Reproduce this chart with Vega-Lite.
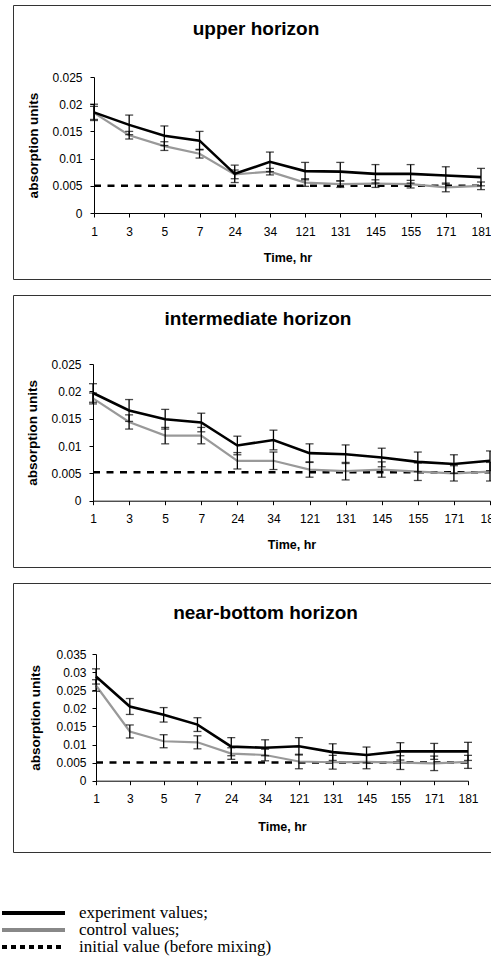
{
  "$schema": "https://vega.github.io/schema/vega-lite/v6.json",
  "padding": {"left": 0, "top": 4, "right": 0, "bottom": 0},
  "background": "white",
  "config": {
    "font": "Liberation Sans",
    "view": {"stroke": "#333", "strokeWidth": 1},
    "axis": {"labelFont": "Liberation Sans", "labelFontSize": 12, "labelColor": "#000", "titleFont": "Liberation Sans", "titleFontSize": 12.5, "titleFontWeight": "bold", "titleColor": "#000", "domainColor": "#000", "tickColor": "#000", "tickSize": 4, "grid": false, "domainWidth": 1, "tickWidth": 1, "labelOverlap": false},
    "title": {"font": "Liberation Sans", "fontSize": 19, "fontWeight": "bold", "color": "#000", "frame": "group", "anchor": "middle"}
  },
  "datasets": {
    "obs": [
      {"panel": "upper", "series": "initial", "time": 1, "value": 0.005, "err": 0},
      {"panel": "upper", "series": "initial", "time": 181, "value": 0.005, "err": 0},
      {"panel": "upper", "series": "experiment", "time": 1, "value": 0.0185, "err": 0.0015},
      {"panel": "upper", "series": "experiment", "time": 3, "value": 0.0162, "err": 0.0018},
      {"panel": "upper", "series": "experiment", "time": 5, "value": 0.0142, "err": 0.0018},
      {"panel": "upper", "series": "experiment", "time": 7, "value": 0.0133, "err": 0.0017},
      {"panel": "upper", "series": "experiment", "time": 24, "value": 0.0072, "err": 0.0016},
      {"panel": "upper", "series": "experiment", "time": 34, "value": 0.0094, "err": 0.0018},
      {"panel": "upper", "series": "experiment", "time": 121, "value": 0.0077, "err": 0.0016},
      {"panel": "upper", "series": "experiment", "time": 131, "value": 0.0076, "err": 0.0017},
      {"panel": "upper", "series": "experiment", "time": 145, "value": 0.0072, "err": 0.0017},
      {"panel": "upper", "series": "experiment", "time": 155, "value": 0.0072, "err": 0.0017},
      {"panel": "upper", "series": "experiment", "time": 171, "value": 0.0069, "err": 0.0016},
      {"panel": "upper", "series": "experiment", "time": 181, "value": 0.0066, "err": 0.0016},
      {"panel": "upper", "series": "control", "time": 1, "value": 0.0184, "err": 0.0012},
      {"panel": "upper", "series": "control", "time": 3, "value": 0.0143, "err": 0.0007},
      {"panel": "upper", "series": "control", "time": 5, "value": 0.0123, "err": 0.0008},
      {"panel": "upper", "series": "control", "time": 7, "value": 0.0109, "err": 0.0008},
      {"panel": "upper", "series": "control", "time": 24, "value": 0.0071, "err": 0.0008},
      {"panel": "upper", "series": "control", "time": 34, "value": 0.0076, "err": 0.0006},
      {"panel": "upper", "series": "control", "time": 121, "value": 0.0056, "err": 0.0007},
      {"panel": "upper", "series": "control", "time": 131, "value": 0.0053, "err": 0.0006},
      {"panel": "upper", "series": "control", "time": 145, "value": 0.0054, "err": 0.0007},
      {"panel": "upper", "series": "control", "time": 155, "value": 0.0053, "err": 0.0007},
      {"panel": "upper", "series": "control", "time": 171, "value": 0.0047, "err": 0.0008},
      {"panel": "upper", "series": "control", "time": 181, "value": 0.005, "err": 0.0007},

      {"panel": "intermediate", "series": "initial", "time": 1, "value": 0.0052, "err": 0},
      {"panel": "intermediate", "series": "initial", "time": 181, "value": 0.0052, "err": 0},
      {"panel": "intermediate", "series": "experiment", "time": 1, "value": 0.0197, "err": 0.0017},
      {"panel": "intermediate", "series": "experiment", "time": 3, "value": 0.0165, "err": 0.002},
      {"panel": "intermediate", "series": "experiment", "time": 5, "value": 0.0149, "err": 0.0018},
      {"panel": "intermediate", "series": "experiment", "time": 7, "value": 0.0143, "err": 0.0017},
      {"panel": "intermediate", "series": "experiment", "time": 24, "value": 0.0101, "err": 0.0017},
      {"panel": "intermediate", "series": "experiment", "time": 34, "value": 0.0111, "err": 0.0018},
      {"panel": "intermediate", "series": "experiment", "time": 121, "value": 0.0087, "err": 0.0017},
      {"panel": "intermediate", "series": "experiment", "time": 131, "value": 0.0085, "err": 0.0017},
      {"panel": "intermediate", "series": "experiment", "time": 145, "value": 0.0079, "err": 0.0017},
      {"panel": "intermediate", "series": "experiment", "time": 155, "value": 0.0071, "err": 0.0018},
      {"panel": "intermediate", "series": "experiment", "time": 171, "value": 0.0067, "err": 0.0017},
      {"panel": "intermediate", "series": "experiment", "time": 181, "value": 0.0073, "err": 0.0018},
      {"panel": "intermediate", "series": "control", "time": 1, "value": 0.0187, "err": 0.001},
      {"panel": "intermediate", "series": "control", "time": 3, "value": 0.0144, "err": 0.0013},
      {"panel": "intermediate", "series": "control", "time": 5, "value": 0.0119, "err": 0.0015},
      {"panel": "intermediate", "series": "control", "time": 7, "value": 0.0119, "err": 0.0015},
      {"panel": "intermediate", "series": "control", "time": 24, "value": 0.0073, "err": 0.0015},
      {"panel": "intermediate", "series": "control", "time": 34, "value": 0.0073, "err": 0.0016},
      {"panel": "intermediate", "series": "control", "time": 121, "value": 0.0057, "err": 0.0014},
      {"panel": "intermediate", "series": "control", "time": 131, "value": 0.0054, "err": 0.0016},
      {"panel": "intermediate", "series": "control", "time": 145, "value": 0.0057, "err": 0.0014},
      {"panel": "intermediate", "series": "control", "time": 155, "value": 0.0053, "err": 0.0016},
      {"panel": "intermediate", "series": "control", "time": 171, "value": 0.005, "err": 0.0014},
      {"panel": "intermediate", "series": "control", "time": 181, "value": 0.0053, "err": 0.0017},

      {"panel": "near-bottom", "series": "initial", "time": 1, "value": 0.005, "err": 0},
      {"panel": "near-bottom", "series": "initial", "time": 181, "value": 0.005, "err": 0},
      {"panel": "near-bottom", "series": "experiment", "time": 1, "value": 0.0288, "err": 0.0021},
      {"panel": "near-bottom", "series": "experiment", "time": 3, "value": 0.0205, "err": 0.0022},
      {"panel": "near-bottom", "series": "experiment", "time": 5, "value": 0.0182, "err": 0.002},
      {"panel": "near-bottom", "series": "experiment", "time": 7, "value": 0.0155, "err": 0.0019},
      {"panel": "near-bottom", "series": "experiment", "time": 24, "value": 0.0094, "err": 0.0025},
      {"panel": "near-bottom", "series": "experiment", "time": 34, "value": 0.0091, "err": 0.0022},
      {"panel": "near-bottom", "series": "experiment", "time": 121, "value": 0.0095, "err": 0.0024},
      {"panel": "near-bottom", "series": "experiment", "time": 131, "value": 0.0079, "err": 0.0023},
      {"panel": "near-bottom", "series": "experiment", "time": 145, "value": 0.0071, "err": 0.0022},
      {"panel": "near-bottom", "series": "experiment", "time": 155, "value": 0.0081, "err": 0.0024},
      {"panel": "near-bottom", "series": "experiment", "time": 171, "value": 0.0081, "err": 0.0022},
      {"panel": "near-bottom", "series": "experiment", "time": 181, "value": 0.0081, "err": 0.0025},
      {"panel": "near-bottom", "series": "control", "time": 1, "value": 0.0263, "err": 0.0016},
      {"panel": "near-bottom", "series": "control", "time": 3, "value": 0.0136, "err": 0.0018},
      {"panel": "near-bottom", "series": "control", "time": 5, "value": 0.0109, "err": 0.0018},
      {"panel": "near-bottom", "series": "control", "time": 7, "value": 0.0106, "err": 0.0018},
      {"panel": "near-bottom", "series": "control", "time": 24, "value": 0.0075, "err": 0.0016},
      {"panel": "near-bottom", "series": "control", "time": 34, "value": 0.0071, "err": 0.0016},
      {"panel": "near-bottom", "series": "control", "time": 121, "value": 0.0053, "err": 0.002},
      {"panel": "near-bottom", "series": "control", "time": 131, "value": 0.0051, "err": 0.0019},
      {"panel": "near-bottom", "series": "control", "time": 145, "value": 0.0052, "err": 0.0019},
      {"panel": "near-bottom", "series": "control", "time": 155, "value": 0.005, "err": 0.0019},
      {"panel": "near-bottom", "series": "control", "time": 171, "value": 0.0048, "err": 0.002},
      {"panel": "near-bottom", "series": "control", "time": 181, "value": 0.0052, "err": 0.0018}
    ],
    "legendRows": [
      {"label": "experiment values;", "series": "experiment"},
      {"label": "control values;", "series": "control"},
      {"label": "initial value (before mixing)", "series": "initial"}
    ]
  },
  "spacing": 23,
  "vconcat": [
    {
      "spacing": 14,
      "resolve": {"scale": {"x": "independent", "y": "independent"}, "axis": {"x": "independent", "y": "independent"}},
      "data": {"name": "obs"},
      "vconcat": [
        {
          "width": 479, "height": 274,
          "title": {"text": "upper horizon", "offset": -34, "dx": 3.5},
          "transform": [{"filter": "datum.panel === 'upper'"}],
          "encoding": {
            "x": {"field": "time", "type": "ordinal", "title": "Time, hr", "scale": {"type": "point", "domain": [1, 3, 5, 7, 24, 34, 121, 131, 145, 155, 171, 181], "range": [81, 468], "padding": 0}, "axis": {"title": "Time, hr", "offset": -66, "labelAngle": 0, "labelPadding": 9, "titlePadding": 14}},
            "y": {"field": "value", "type": "quantitative", "title": "absorption units", "scale": {"domain": [0, 0.025], "range": [208, 72], "nice": false, "zero": false}, "axis": {"title": "absorption units", "titleFontSize": 13.5, "offset": -81, "values": [0, 0.005, 0.01, 0.015, 0.02, 0.025], "format": "~g", "labelPadding": 8, "titlePadding": 11}}
          },
          "layer": [
            {"transform": [{"filter": "datum.series === 'initial'"}], "mark": {"type": "line", "color": "#000", "strokeWidth": 2.5, "strokeDash": [7, 6.5]}},
            {"transform": [{"filter": "datum.series === 'control'"}], "mark": {"type": "line", "color": "#999", "strokeWidth": 2.2}},
            {"transform": [{"filter": "datum.series === 'experiment'"}], "mark": {"type": "line", "color": "#000", "strokeWidth": 2.6}},
            {"transform": [{"filter": "datum.series !== 'initial'"}], "mark": {"type": "errorbar", "ticks": {"size": 8}, "color": "#000", "thickness": 1.3}, "encoding": {"yError": {"field": "err"}}}
          ]
        },
        {
          "width": 490, "height": 272,
          "title": {"text": "intermediate horizon", "offset": -33.5},
          "transform": [{"filter": "datum.panel === 'intermediate'"}],
          "encoding": {
            "x": {"field": "time", "type": "ordinal", "title": "Time, hr", "scale": {"type": "point", "domain": [1, 3, 5, 7, 24, 34, 121, 131, 145, 155, 171, 181], "range": [80, 477], "padding": 0}, "axis": {"title": "Time, hr", "offset": -66.3, "labelAngle": 0, "labelPadding": 9, "titlePadding": 13.5}},
            "y": {"field": "value", "type": "quantitative", "title": "absorption units", "scale": {"domain": [0, 0.025], "range": [205.7, 69], "nice": false, "zero": false}, "axis": {"title": "absorption units", "titleFontSize": 13.5, "offset": -80, "values": [0, 0.005, 0.01, 0.015, 0.02, 0.025], "format": "~g", "labelPadding": 8, "titlePadding": 11}}
          },
          "layer": [
            {"transform": [{"filter": "datum.series === 'initial'"}], "mark": {"type": "line", "color": "#000", "strokeWidth": 2.5, "strokeDash": [7, 6.5]}},
            {"transform": [{"filter": "datum.series === 'control'"}], "mark": {"type": "line", "color": "#999", "strokeWidth": 2.2}},
            {"transform": [{"filter": "datum.series === 'experiment'"}], "mark": {"type": "line", "color": "#000", "strokeWidth": 2.6}},
            {"transform": [{"filter": "datum.series !== 'initial'"}], "mark": {"type": "errorbar", "ticks": {"size": 8}, "color": "#000", "thickness": 1.3}, "encoding": {"yError": {"field": "err"}}}
          ]
        },
        {
          "width": 505, "height": 269,
          "title": {"text": "near-bottom horizon", "offset": -40},
          "transform": [{"filter": "datum.panel === 'near-bottom'"}],
          "encoding": {
            "x": {"field": "time", "type": "ordinal", "title": "Time, hr", "scale": {"type": "point", "domain": [1, 3, 5, 7, 24, 34, 121, 131, 145, 155, 171, 181], "range": [83, 455], "padding": 0}, "axis": {"title": "Time, hr", "offset": -71.3, "labelAngle": 0, "labelPadding": 9, "titlePadding": 16}},
            "y": {"field": "value", "type": "quantitative", "title": "absorption units", "scale": {"domain": [0, 0.035], "range": [197.7, 71], "nice": false, "zero": false}, "axis": {"title": "absorption units", "titleFontSize": 13.5, "offset": -83, "values": [0, 0.005, 0.01, 0.015, 0.02, 0.025, 0.03, 0.035], "format": "~g", "labelPadding": 6, "titlePadding": 13}}
          },
          "layer": [
            {"transform": [{"filter": "datum.series === 'initial'"}], "mark": {"type": "line", "color": "#000", "strokeWidth": 2.5, "strokeDash": [7, 6.5]}},
            {"transform": [{"filter": "datum.series === 'control'"}], "mark": {"type": "line", "color": "#999", "strokeWidth": 2.2}},
            {"transform": [{"filter": "datum.series === 'experiment'"}], "mark": {"type": "line", "color": "#000", "strokeWidth": 2.6}},
            {"transform": [{"filter": "datum.series !== 'initial'"}], "mark": {"type": "errorbar", "ticks": {"size": 8}, "color": "#000", "thickness": 1.3}, "encoding": {"yError": {"field": "err"}}}
          ]
        }
      ]
    },
    {
      "width": 300, "height": 80,
      "view": {"stroke": null},
      "data": {"name": "legendRows"},
      "layer": [
        {
          "mark": {"type": "rule", "strokeWidth": 4, "strokeCap": "butt"},
          "encoding": {
            "x": {"datum": 0, "type": "quantitative", "scale": {"domain": [11, 311], "nice": false, "zero": false}, "axis": null},
            "x2": {"datum": 63},
            "y": {"field": "label", "type": "nominal", "sort": null, "scale": {"type": "point", "range": [37, 71], "padding": 0}, "axis": null},
            "color": {"field": "series", "type": "nominal", "scale": {"domain": ["experiment", "control", "initial"], "range": ["#000", "#888", "#000"]}, "legend": null},
            "strokeDash": {"field": "series", "type": "nominal", "scale": {"domain": ["experiment", "control", "initial"], "range": [[1, 0], [1, 0], [5, 4]]}, "legend": null}
          }
        },
        {
          "mark": {"type": "text", "align": "left", "baseline": "middle", "font": "Liberation Serif", "fontSize": 17, "color": "#000"},
          "encoding": {
            "x": {"datum": 77, "type": "quantitative"},
            "y": {"field": "label", "type": "nominal", "sort": null},
            "text": {"field": "label"}
          }
        }
      ]
    }
  ]
}
